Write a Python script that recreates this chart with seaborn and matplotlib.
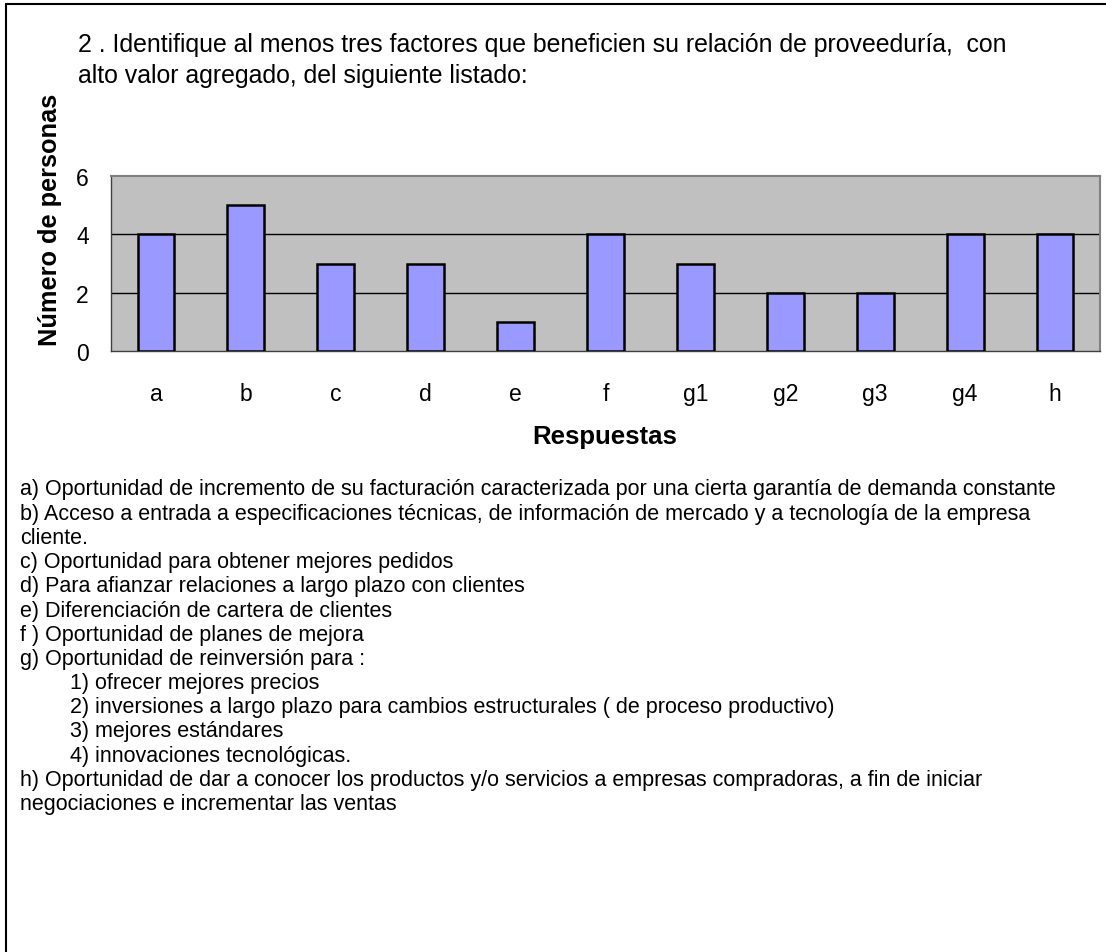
import seaborn as sns
import matplotlib.pyplot as plt
from matplotlib.lines import Line2D

# 데이터
categorias = ["a", "b", "c", "d", "e", "f", "g1", "g2", "g3", "g4", "h"]
personas = [4, 5, 3, 3, 1, 4, 3, 2, 2, 4, 4]
y_ticks = [0, 2, 4, 6]

titulo = ["2 . Identifique al menos tres factores que beneficien su relación de proveeduría,  con",
          "alto valor agregado, del siguiente listado:"]

listado = [
    (0, "a) Oportunidad de incremento de su facturación caracterizada por una cierta garantía de demanda constante"),
    (0, "b) Acceso a entrada a especificaciones técnicas, de información de mercado y a tecnología de la empresa"),
    (0, "cliente."),
    (0, "c) Oportunidad para obtener mejores pedidos"),
    (0, "d) Para afianzar relaciones a largo plazo con clientes"),
    (0, "e) Diferenciación de cartera de clientes"),
    (0, "f ) Oportunidad de planes de mejora"),
    (0, "g) Oportunidad de reinversión para :"),
    (1, "1) ofrecer mejores precios"),
    (1, "2) inversiones a largo plazo para cambios estructurales ( de proceso productivo)"),
    (1, "3) mejores estándares"),
    (1, "4) innovaciones tecnológicas."),
    (0, "h) Oportunidad de dar a conocer los productos y/o servicios a empresas compradoras, a fin de iniciar"),
    (0, "negociaciones e incrementar las ventas"),
]

sns.set_style("white")
plt.rcParams['font.family'] = ['Liberation Sans', 'DejaVu Sans']
plt.rcParams['text.color'] = 'black'
plt.rcParams['axes.labelcolor'] = 'black'
plt.rcParams['xtick.color'] = 'black'
plt.rcParams['ytick.color'] = 'black'

W, H = 1106, 953
fig = plt.figure(figsize=(W / 100, H / 100), dpi=100)

# 차트 영역
ax = fig.add_axes([111 / W, 1 - 352 / H, (1100 - 111) / W, (352 - 177) / H])
ax.set_facecolor("#C0C0C0")
sns.barplot(x=categorias, y=personas, color="#9999FF", edgecolor="black",
            linewidth=1.8, width=0.41, saturation=1, ax=ax, zorder=3)

ax.set_ylim(0, 6)
ax.set_xlim(-0.5, len(categorias) - 0.5)
ax.set_yticks(y_ticks)
for v in y_ticks[1:-1]:
    ax.axhline(v, color="black", linewidth=1, zorder=1)

ax.set_xticks(range(len(categorias)))
ax.set_xticks([i - 0.5 for i in range(len(categorias) + 1)], minor=True)
ax.tick_params(axis="x", which="major", length=0, pad=22, labelsize=16.5)
ax.tick_params(axis="x", which="minor", length=7, width=1, color="#404040", direction="out")
ax.tick_params(axis="y", length=9, width=1, color="#404040", direction="out", labelsize=16.5, pad=7)

for s in ["left", "bottom"]:
    ax.spines[s].set_color("#404040")
    ax.spines[s].set_linewidth(1)
for s in ["top", "right"]:
    ax.spines[s].set_color("#808080")
    ax.spines[s].set_linewidth(1.5)

ax.set_xlabel("Respuestas", fontsize=18.5, fontweight="bold")
ax.set_ylabel("Número de personas", fontsize=18.3, fontweight="bold")
ax.xaxis.set_label_coords((605 - 111) / (1100 - 111), (352 - 437) / 175)
ax.yaxis.set_label_coords((50 - 111) / (1100 - 111), (352 - 220) / 175)
ax.xaxis.label.set_va("center")
ax.yaxis.label.set_va("center")

# 제목
for i, linea in enumerate(titulo):
    fig.text(78 / W, 1 - (45 + i * 31) / H, linea, fontsize=17.9, va="center", ha="left")

# 설명 목록
y0 = 490
paso = 24.2
for i, (nivel, linea) in enumerate(listado):
    x = 20 if nivel == 0 else 70
    fig.text(x / W, 1 - (y0 + i * paso) / H, linea, fontsize=15.5, va="center", ha="left")

# 외곽 테두리
fig.add_artist(Line2D([6 / W, 6 / W], [0, 1 - 5 / H], color="black", linewidth=1.5,
                      transform=fig.transFigure))
fig.add_artist(Line2D([6 / W, 1], [1 - 5 / H, 1 - 5 / H], color="black", linewidth=1.5,
                      transform=fig.transFigure))

fig.savefig("out.png", dpi=100)
